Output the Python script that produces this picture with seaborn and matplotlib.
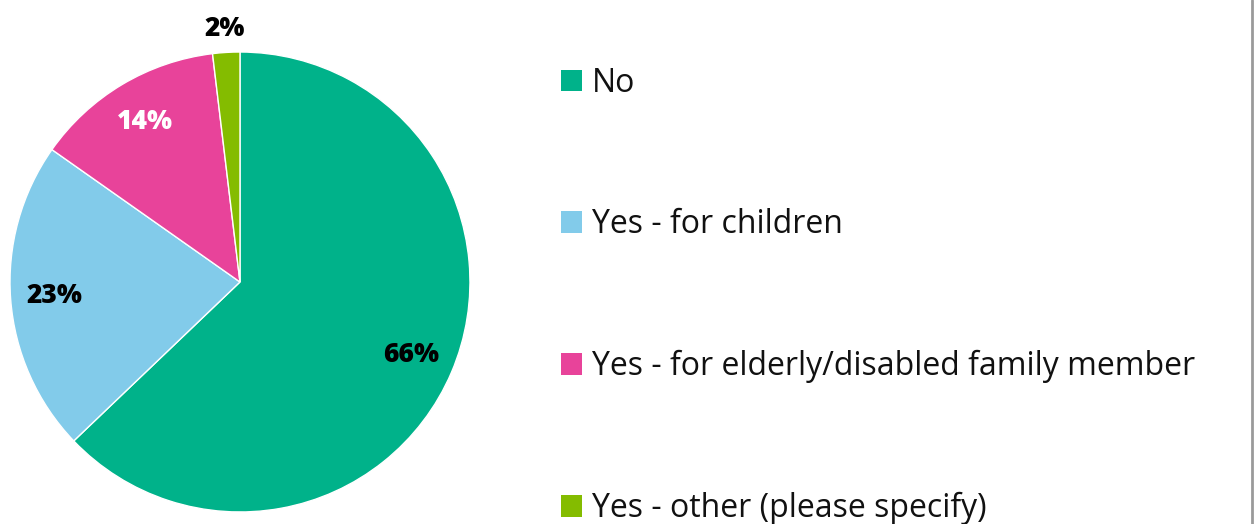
import numpy as np
import matplotlib
matplotlib.use("Agg")
import matplotlib.pyplot as plt
from matplotlib.patches import Patch
import seaborn as sns

# Survey responses: caring responsibilities
categories = ["No", "Yes - for children", "Yes - for elderly/disabled family member",
              "Yes - other (please specify)"]
values = [66, 23, 14, 2]
value_labels = ["66%", "23%", "14%", "2%"]
colors = ["#00B28A", "#82CBEA", "#E8439A", "#84BC00"]
label_colors = ["#000000", "#000000", "#FFFFFF", "#000000"]

sns.set_theme(style="white")
plt.rcParams["font.family"] = ["Open Sans", "DejaVu Sans"]

fig = plt.figure(figsize=(12.55, 5.24), dpi=100)
ax = fig.add_axes([0.00797, 0.0229, 0.3665, 0.8779])

wedges, _ = ax.pie(values, colors=colors, startangle=90, counterclock=False,
                   radius=1.0, wedgeprops=dict(edgecolor="white", linewidth=1.0))
ax.set_xlim(-1, 1)
ax.set_ylim(-1, 1)
ax.set_aspect("equal")
ax.axis("off")

# value labels inside each wedge (small slice gets its label outside)
for w, lab, c, v in zip(wedges, value_labels, label_colors, values):
    mid = np.deg2rad((w.theta1 + w.theta2) / 2)
    r = 0.81 if v >= 5 else 1.10
    ax.text(r * np.cos(mid), r * np.sin(mid), lab, ha="center", va="center",
            fontsize=19, fontweight="heavy", color=c, clip_on=False)

handles = [Patch(facecolor=c, edgecolor="none") for c in colors]
leg = fig.legend(handles, categories, loc="upper left", bbox_to_anchor=(0.4365, 0.8968),
                 frameon=False, fontsize=23, labelspacing=3.40, handlelength=0.66,
                 handleheight=0.66, handletextpad=0.31, borderaxespad=0)
for t in leg.get_texts():
    t.set_color("#111111")

# thin frame line on the right edge
fig.add_artist(plt.Line2D([0.9978, 0.9978], [0, 1], color="#9a9a9a", linewidth=2,
                          transform=fig.transFigure))

fig.savefig("out.png", dpi=100)
